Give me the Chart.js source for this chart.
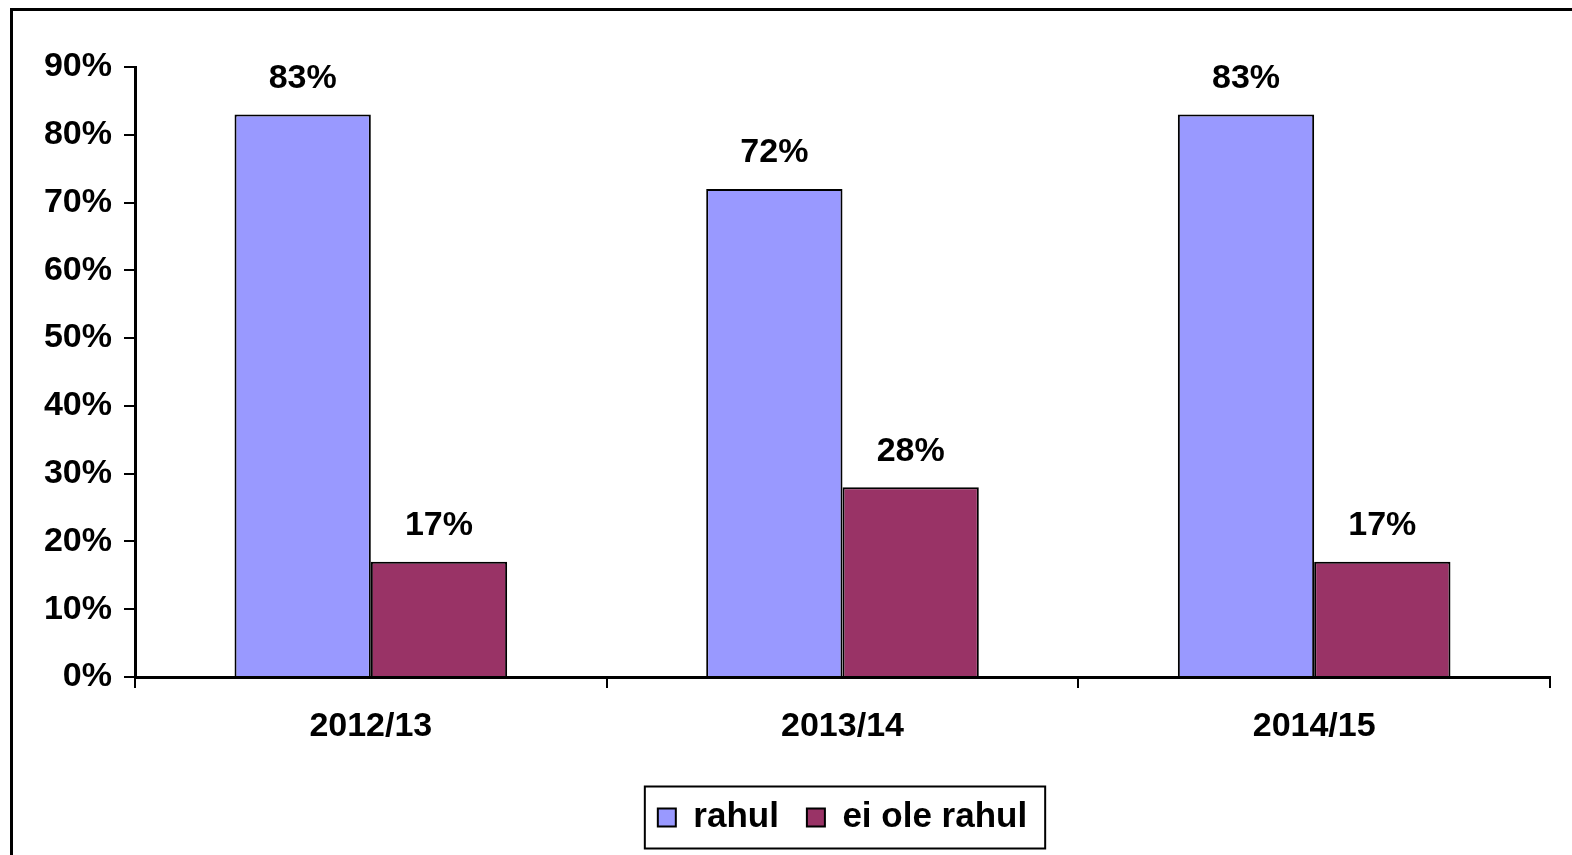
<!DOCTYPE html>
<html lang="et">
<head>
<meta charset="UTF-8">
<title>rahul / ei ole rahul</title>
<style>
  html, body { margin: 0; padding: 0; background: #fff; }
  #wrap { width: 1572px; height: 855px; }
</style>
</head>
<body>
<div id="wrap"><canvas id="myChart" width="1572" height="855"></canvas></div>
<script src="https://cdn.jsdelivr.net/npm/chart.js"></script>
<script>
// andmed
const years = ['2012/13', '2013/14', '2014/15'];
const rahul = [83, 72, 83];
const eiOleRahul = [17, 28, 17];
const seriesNames = ['rahul', 'ei ole rahul'];

const FONT = "'Liberation Sans', Arial, sans-serif";

// outer frame (only top + left visible in the picture)
const framePlugin = {
  id: 'frame',
  beforeDraw(chart) {
    const c = chart.ctx;
    c.save();
    c.fillStyle = '#fff';
    c.fillRect(0, 0, chart.width, chart.height);
    c.strokeStyle = '#000';
    c.lineWidth = 3;
    c.strokeRect(11.5, 9.5, chart.width + 20, chart.height + 20);
    c.restore();
  }
};

// value labels above the bars
const valueLabels = {
  id: 'valueLabels',
  afterDatasetsDraw(chart) {
    const c = chart.ctx;
    c.save();
    c.font = 'bold 34px ' + FONT;
    c.fillStyle = '#000';
    c.textAlign = 'center';
    c.textBaseline = 'bottom';
    chart.data.datasets.forEach(function (ds, i) {
      chart.getDatasetMeta(i).data.forEach(function (bar, j) {
        c.fillText(ds.data[j] + '%', bar.x, bar.y - 19);
      });
    });
    c.restore();
  }
};

// border round the legend
const legendBox = {
  id: 'legendBox',
  afterDraw(chart) {
    const hb = chart.legend.legendHitBoxes;
    if (!hb || !hb.length) return;
    const c = chart.ctx;
    let l = Infinity, r = -Infinity, t = Infinity, b = -Infinity;
    hb.forEach(function (h) {
      l = Math.min(l, h.left); r = Math.max(r, h.left + h.width);
      t = Math.min(t, h.top); b = Math.max(b, h.top + h.height);
    });
    const cy = (t + b) / 2;
    c.save();
    c.strokeStyle = '#000';
    c.lineWidth = 2;
    c.strokeRect(l - 13, cy - 31, (r - l) + 31, 62);
    c.restore();
  }
};

const ctx = document.getElementById('myChart');
const mychart = new Chart(ctx, {
  type: 'bar',
  data: {
    labels: years,
    datasets: [{
      label: seriesNames[0],
      data: rahul,
      backgroundColor: '#9999FF',
      borderColor: '#000',
      borderWidth: 2
    }, {
      label: seriesNames[1],
      data: eiOleRahul,
      backgroundColor: '#993366',
      borderColor: '#000',
      borderWidth: 2
    }]
  },
  options: {
    responsive: false,
    animation: false,
    layout: { padding: { top: 67, right: 22, bottom: 10, left: 0 } },
    datasets: { bar: { categoryPercentage: 0.578, barPercentage: 1 } },
    scales: {
      x: {
        grid: { display: true, offset: true, drawOnChartArea: false, drawTicks: true, tickLength: 11, color: '#000', lineWidth: 2 },
        border: { display: true, color: '#000', width: 3 },
        ticks: { color: '#000', font: { family: FONT, size: 34, weight: 'bold' }, padding: 18 },
        afterFit(s) { s.height = 95; }
      },
      y: {
        min: 0, max: 90,
        grid: { drawOnChartArea: false, drawTicks: true, tickLength: 11, color: '#000', lineWidth: 2 },
        border: { display: true, color: '#000', width: 3 },
        ticks: { stepSize: 10, color: '#000', padding: 12, font: { family: FONT, size: 34, weight: 'bold' },
          callback: function (v) { return v + '%'; } },
        afterFit(s) { s.width = 135; }
      }
    },
    plugins: {
      tooltip: { enabled: false },
      legend: {
        position: 'bottom',
        fullSize: false,
        labels: {
          color: '#000',
          font: { family: FONT, size: 35, weight: 'bold' },
          boxWidth: 18,
          boxHeight: 18,
          padding: 28,
          useBorderRadius: false
        }
      }
    }
  },
  plugins: [framePlugin, valueLabels, legendBox]
});
</script>
</body>
</html>
